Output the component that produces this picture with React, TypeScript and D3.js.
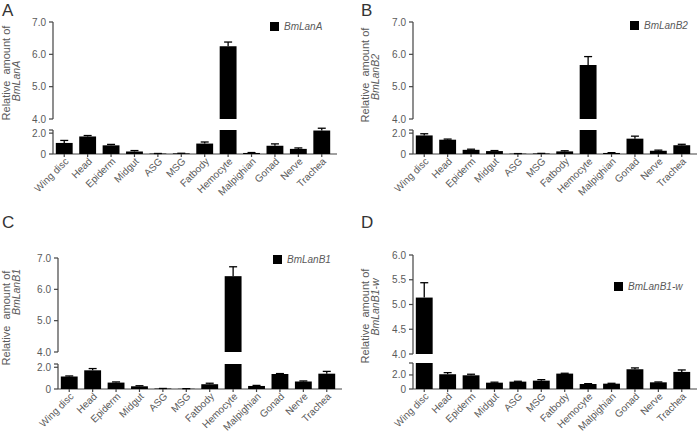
import * as React from "react";
import * as d3 from "d3";

const tissues = ["Wing disc", "Head", "Epiderm", "Midgut", "ASG", "MSG", "Fatbody", "Hemocyte", "Malpighian", "Gonad", "Nerve", "Trachea"];

const lanA = [1.06, 1.68, 0.83, 0.24, 0.04, 0.06, 1.0, 6.25, 0.1, 0.79, 0.49, 2.25];
const lanASd = [0.24, 0.09, 0.09, 0.09, 0.01, 0.01, 0.15, 0.13, 0.04, 0.18, 0.09, 0.22];

const lanB2 = [1.78, 1.37, 0.4, 0.28, 0.03, 0.05, 0.25, 5.67, 0.1, 1.47, 0.31, 0.84];
const lanB2Sd = [0.16, 0.06, 0.06, 0.05, 0.01, 0.01, 0.06, 0.26, 0.03, 0.24, 0.06, 0.09];

const lanB1 = [1.15, 1.72, 0.59, 0.25, 0.04, 0.02, 0.44, 6.42, 0.28, 1.38, 0.69, 1.41];
const lanB1Sd = [0.05, 0.16, 0.06, 0.05, 0.01, 0.01, 0.09, 0.3, 0.05, 0.04, 0.05, 0.21];

const lanB1w = [5.14, 2.1, 1.95, 0.9, 1.05, 1.19, 2.19, 0.71, 0.76, 2.81, 0.95, 2.43];
const lanB1wSd = [0.3, 0.23, 0.15, 0.07, 0.05, 0.14, 0.05, 0.05, 0.05, 0.19, 0.05, 0.28];

const upperTicks7 = [4, 5, 6, 7];
const upperTicks6 = [4, 4.5, 5, 5.5, 6];
const lowerTicks = [0, 2];

const AXIS = "#444";
const TXT = "#5a5a5a";
const FONT = "Liberation Sans, Arial, sans-serif";

type PanelProps = {
  letter: string;
  gene: string;
  values: number[];
  sd: number[];
  x0: number; // y axis position
  yTop: number;
  yUpBottom: number;
  yLowTop: number;
  y0: number;
  up: [number, number];
  lowMax: number;
  upTicks: number[];
  letterY: number;
  legendX: number;
  legendY: number;
  title1Y: number;
  title2Y: number;
  panelX: number;
};

function Panel(p: PanelProps) {
  const x = d3.scaleBand<string>()
    .domain(tissues)
    .range([p.x0, p.x0 + 280])
    .paddingInner(0.28)
    .paddingOuter(0.12);
  const yUp = d3.scaleLinear().domain(p.up).range([p.yUpBottom, p.yTop]);
  const yLow = d3.scaleLinear().domain([0, p.lowMax]).range([p.y0, p.yLowTop]);
  const bw = x.bandwidth();
  const fmt = (v: number) => (v === 0 ? "0" : v.toFixed(1));

  return (
    <g fontFamily={FONT}>
      <text x={p.panelX + 2} y={p.letterY} fontSize={17} fill="#333">{p.letter}</text>

      {/* y titles */}
      <text transform={`translate(${p.panelX + 10},${p.title1Y}) rotate(-90)`} textAnchor="middle" fontSize={11} fill={TXT} style={{ whiteSpace: "pre" }}>
        Relative  amount of
      </text>
      <text transform={`translate(${p.panelX + 20},${p.title2Y}) rotate(-90)`} textAnchor="middle" fontSize={10.5} fontStyle="italic" fill={TXT}>
        {p.gene}
      </text>

      {/* upper axis */}
      <line x1={p.x0} x2={p.x0} y1={yUp(p.up[1])} y2={yUp(p.up[0])} stroke={AXIS} strokeWidth={1.2} />
      {p.upTicks.map((t) => (
        <g key={"u" + t}>
          <line x1={p.x0 - 4} x2={p.x0} y1={yUp(t)} y2={yUp(t)} stroke={AXIS} strokeWidth={1.2} />
          <text x={p.x0 - 7} y={yUp(t)} dy="0.35em" textAnchor="end" fontSize={10} fill={TXT}>{fmt(t)}</text>
        </g>
      ))}

      {/* lower axis */}
      <line x1={p.x0} x2={p.x0} y1={yLow(p.lowMax)} y2={yLow(0)} stroke={AXIS} strokeWidth={1.2} />
      <line x1={p.x0 - 4} x2={p.x0} y1={yLow(p.lowMax)} y2={yLow(p.lowMax)} stroke={AXIS} strokeWidth={1.2} />
      {lowerTicks.map((t) => (
        <g key={"l" + t}>
          <line x1={p.x0 - 4} x2={p.x0} y1={yLow(t)} y2={yLow(t)} stroke={AXIS} strokeWidth={1.2} />
          <text x={p.x0 - 7} y={yLow(t)} dy="0.35em" textAnchor="end" fontSize={10} fill={TXT}>{fmt(t)}</text>
        </g>
      ))}

      {/* x axis */}
      <line x1={p.x0} x2={p.x0 + 284} y1={yLow(0)} y2={yLow(0)} stroke={AXIS} strokeWidth={1.2} />
      {tissues.map((t) => {
        const cx = (x(t) as number) + bw / 2;
        const ly = yLow(0) + 8;
        return (
          <g key={"x" + t}>
            <line x1={cx} x2={cx} y1={yLow(0)} y2={yLow(0) + 3} stroke={AXIS} strokeWidth={1.2} />
            <text
              transform={`translate(${cx + 5},${ly}) rotate(-45)`}
              textAnchor="end"
              fontSize={10}
              fill={TXT}
            >
              {t}
            </text>
          </g>
        );
      })}

      {/* bars */}
      {tissues.map((t, i) => {
        const v = p.values[i];
        const top = v + p.sd[i];
        const bx = x(t) as number;
        const cx = bx + bw / 2;
        const broken = v > p.lowMax;
        const lowTopY = yLow(Math.min(v, p.lowMax));
        const errBase = broken ? yUp(v) : yLow(v);
        const errTop = broken ? yUp(top) : yLow(top);
        return (
          <g key={"b" + t}>
            <rect x={bx} y={lowTopY} width={bw} height={yLow(0) - lowTopY} fill="#000" />
            {broken && (
              <rect x={bx} y={yUp(v)} width={bw} height={yUp(p.up[0]) - yUp(v)} fill="#000" />
            )}
            <line x1={cx} x2={cx} y1={errBase} y2={errTop} stroke="#000" strokeWidth={1.3} />
            <line x1={cx - 4} x2={cx + 4} y1={errTop} y2={errTop} stroke="#000" strokeWidth={1.3} />
          </g>
        );
      })}

      {/* legend */}
      <rect x={p.legendX} y={p.legendY - 8} width={9} height={9} fill="#000" />
      <text x={p.legendX + 14} y={p.legendY} fontSize={10} fontStyle="italic" fill={TXT}>{p.gene}</text>
    </g>
  );
}

export default function App() {
  return (
    <svg width={700} height={435} style={{ position: "absolute", left: 0, top: 0, background: "#fff" }}>
      <Panel letter="A" gene="BmLanA" values={lanA} sd={lanASd} panelX={0} x0={53}
        yTop={22} yUpBottom={119} yLowTop={130} y0={154} up={[4, 7]} lowMax={2.3} upTicks={upperTicks7}
        letterY={16} legendX={270} legendY={30} title1Y={73} title2Y={81} />
      <Panel letter="B" gene="BmLanB2" values={lanB2} sd={lanB2Sd} panelX={359} x0={413}
        yTop={22} yUpBottom={119} yLowTop={130} y0={154} up={[4, 7]} lowMax={2.3} upTicks={upperTicks7}
        letterY={16} legendX={630} legendY={29} title1Y={75} title2Y={77} />
      <Panel letter="C" gene="BmLanB1" values={lanB1} sd={lanB1Sd} panelX={0} x0={58}
        yTop={258} yUpBottom={352} yLowTop={364} y0={389} up={[4, 7]} lowMax={2.3} upTicks={upperTicks7}
        letterY={228} legendX={273} legendY={263} title1Y={318} title2Y={292} />
      <Panel letter="D" gene="BmLanB1-w" values={lanB1w} sd={lanB1wSd} panelX={359} x0={413}
        yTop={255} yUpBottom={354} yLowTop={363} y0={389} up={[4, 6]} lowMax={3.7} upTicks={upperTicks6}
        letterY={228} legendX={614} legendY={290} title1Y={316} title2Y={307} />
    </svg>
  );
}
